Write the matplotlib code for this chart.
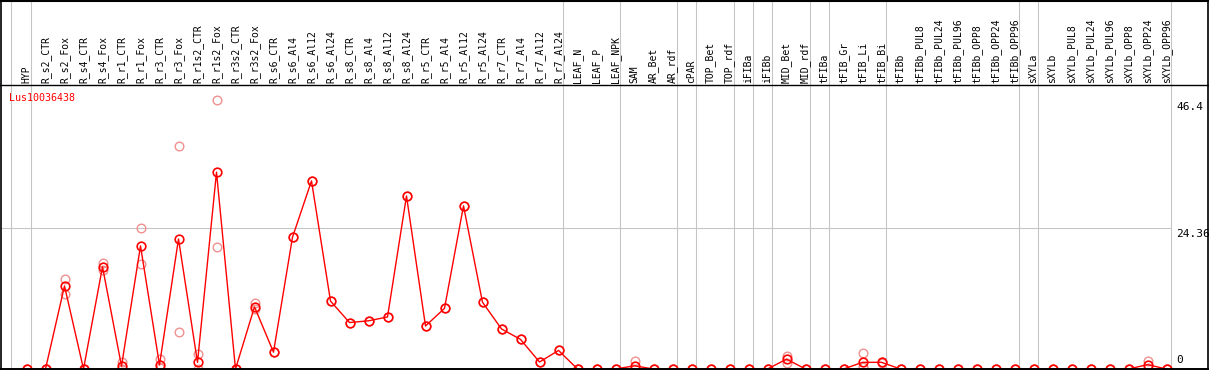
import matplotlib
matplotlib.use("Agg")
import matplotlib.pyplot as plt

# ---------------- data ----------------
title = "Lus10036438"
samples = ["HYP",
           "R_s2_CTR", "R_s2_Fox", "R_s4_CTR", "R_s4_Fox", "R_r1_CTR", "R_r1_Fox",
           "R_r3_CTR", "R_r3_Fox", "R_r1s2_CTR", "R_r1s2_Fox", "R_r3s2_CTR", "R_r3s2_Fox",
           "R_s6_CTR", "R_s6_Al4", "R_s6_Al12", "R_s6_Al24",
           "R_s8_CTR", "R_s8_Al4", "R_s8_Al12", "R_s8_Al24",
           "R_r5_CTR", "R_r5_Al4", "R_r5_Al12", "R_r5_Al24",
           "R_r7_CTR", "R_r7_Al4", "R_r7_Al12", "R_r7_Al24",
           "LEAF_N", "LEAF_P", "LEAF_NPK", "SAM", "AR_Bet", "AR_rdf", "cPAR",
           "TOP_Bet", "TOP_rdf", "iFIBa", "iFIBb", "MID_Bet", "MID_rdf", "tFIBa",
           "tFIB_Gr", "tFIB_Li", "tFIB_Bi", "tFIBb",
           "tFIBb_PUL8", "tFIBb_PUL24", "tFIBb_PUL96", "tFIBb_OPP8", "tFIBb_OPP24", "tFIBb_OPP96",
           "sXYLa", "sXYLb",
           "sXYLb_PUL8", "sXYLb_PUL24", "sXYLb_PUL96", "sXYLb_OPP8", "sXYLb_OPP24", "sXYLb_OPP96"]

# group sizes (vertical separators between groups)
group_sizes = [1, 28, 3, 3, 1, 2, 1, 1, 2, 1, 3, 7, 1, 7]

means = [0, 0, 14.3, 0, 17.6, 0.5, 21.2, 0.7, 22.4, 1.15, 33.9, 0, 10.7,
         2.9, 22.7, 32.4, 11.7, 8.0, 8.3, 8.96, 29.8, 7.4, 10.45, 28.1, 11.5,
         6.9, 5.1, 1.2, 3.2,
         0, 0, 0, 0.55, 0, 0, 0, 0, 0, 0, 0, 1.7, 0, 0, 0, 1.15, 1.15, 0,
         0, 0, 0, 0, 0, 0, 0, 0,
         0, 0, 0, 0, 0.75, 0]

replicates = [[0, 0], [0, 0], [15.5, 13.0], [0, 0], [18.3, 17.05], [1.25, 0.0],
              [24.2, 18.0], [1.7, 0.2], [38.4, 6.4], [2.6, 0.0], [46.4, 21.0], [0, 0],
              [11.4, 10.3],
              [2.9], [22.7], [32.4], [11.7], [8.0], [8.3], [8.96], [29.8], [7.4],
              [10.45], [28.1], [11.5], [6.9], [5.1], [1.2], [3.2],
              [0, 0], [0, 0], [0, 0], [1.4, 0.0], [0, 0], [0, 0], [0, 0], [0, 0],
              [0, 0], [0, 0], [0, 0], [2.2, 1.0], [0, 0], [0, 0], [0, 0],
              [2.75, 0.3, 0.4], [1.25, 1.05], [0, 0],
              [0, 0], [0, 0], [0, 0], [0, 0], [0, 0], [0, 0], [0, 0], [0, 0],
              [0, 0], [0, 0], [0, 0], [0, 0], [1.3, 0.2], [0, 0]]

ytick_values = [46.4, 24.36, 0]
ytick_labels = ["46.4", "24.36", "0"]

# ---------------- layout (pixel mapping) ----------------
W, H = 1209, 370
X0PX, DXPX = 26.5, 19.0      # pixel x of first sample, pixel spacing
Y0PX, SYPX = 369.0, 5.806    # pixel y of value 0, pixels per unit
HEADER_PX = 85.0
RIGHT_GRID_PX = 1170.5


def px2x(px):
    return (px - X0PX) / DXPX


def px2y(py):
    return (Y0PX - py) / SYPX


fig = plt.figure(figsize=(W / 100, H / 100), dpi=100)
ax = fig.add_axes([0, 0, 1, 1])
ax.set_axis_off()
ax.set_xlim(px2x(0), px2x(W))
ax.set_ylim(px2y(H), px2y(0))

grid_col = "#c4c4c4"
lw1 = 0.75
red = "#ff0000"
light = "#ef9090"

# vertical group separators
ytop, ybot = px2y(0), px2y(H)
start = 0
bounds = [start - 0.8]
for g in group_sizes:
    start += g
    bounds.append(start - 0.78)
for b in bounds:
    ax.plot([b, b], [ybot, ytop], color=grid_col, lw=lw1, zorder=1,
            solid_capstyle="butt")

# horizontal gridline at middle tick
ax.plot([px2x(1), bounds[-1]], [ytick_values[1]] * 2, color=grid_col, lw=lw1,
        zorder=1)

# frame lines
ax.plot([px2x(1), px2x(1)], [ybot, ytop], color="black", lw=1.2, zorder=6)
ax.plot([px2x(1207.5), px2x(1207.5)], [ybot, ytop], color="black", lw=1.2, zorder=6)
ax.plot([px2x(0), px2x(W)], [px2y(0.6)] * 2, color="black", lw=1.5, zorder=6)
ax.plot([px2x(0), px2x(W)], [px2y(HEADER_PX)] * 2, color="black", lw=1.0, zorder=6)
ax.plot([px2x(0), px2x(W)], [0, 0], color="black", lw=1.4, zorder=6)

# replicates
for i, reps in enumerate(replicates):
    ax.plot([i] * len(reps), reps, linestyle="none", marker="o", ms=6.2,
            mfc="none", mec=light, mew=1.0, zorder=2)

# mean line
xs = list(range(len(samples)))
ax.plot(xs, means, color=red, lw=1.0, marker="o", ms=6.2, mfc="none",
        mec=red, mew=1.2, zorder=4)

mono = "DejaVu Sans Mono"
# column labels
for i, s in enumerate(samples):
    ax.text(i, px2y(HEADER_PX - 2.5), s, rotation=90, ha="center", va="bottom",
            fontsize=7, family=mono, color="black", zorder=7)

# title
ax.text(px2x(9.5), px2y(92.5), title, ha="left", va="top", fontsize=7.2,
        family=mono, color=red, zorder=7)

# right value labels
lab_x = px2x(1176)
ax.text(lab_x, ytick_values[0] - 2.0 / SYPX, ytick_labels[0], ha="left", va="top",
        fontsize=8, family=mono, color="black")
ax.text(lab_x, ytick_values[1] - 1.0 / SYPX, ytick_labels[1], ha="left", va="top",
        fontsize=8, family=mono, color="black")
ax.text(lab_x, ytick_values[2] + 4.0 / SYPX, ytick_labels[2], ha="left", va="bottom",
        fontsize=8, family=mono, color="black")

fig.savefig("out.png", dpi=100)
